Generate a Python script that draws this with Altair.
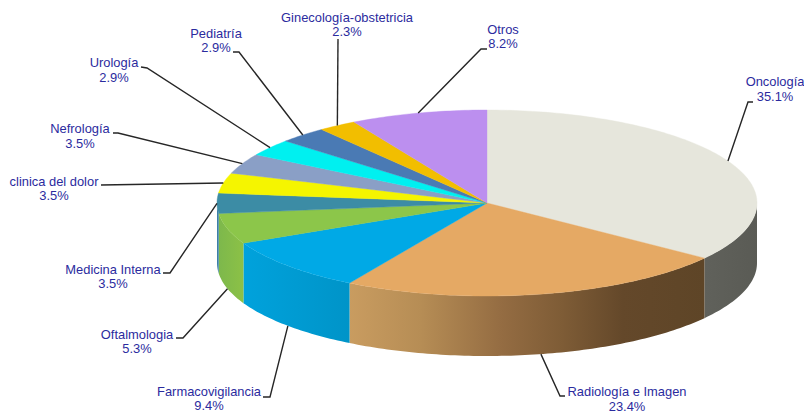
import math
import altair as alt

# Slices, clockwise from twelve o'clock
CATEGORIES = ["Oncología", "Radiología e Imagen", "Farmacovigilancia", "Oftalmologia",
              "Medicina Interna", "clinica del dolor", "Nefrología", "Urología",
              "Pediatría", "Ginecología-obstetricia", "Otros"]
SHARES = [35.1, 23.4, 9.4, 5.3, 3.5, 3.5, 3.5, 2.9, 2.9, 2.3, 8.2]

TOP_COLORS = ["#E6E6DC", "#E5A964", "#00A9E6", "#8CC64A", "#3C8CA5", "#F5F500",
              "#8A9FC6", "#00F0F0", "#4A7AB4", "#F2BE00", "#BC8FEF"]
WALL_STOPS = {
    0: [(0, "#60615B"), (1, "#5A5B55")],
    1: [(0, "#C99C60"), (0.2, "#B68D55"), (0.43, "#946C42"), (0.6, "#7E5C36"),
        (0.77, "#64482A"), (1, "#5E4527")],
    2: [(0, "#00A2DC"), (1, "#0094C8")],
    3: [(0, "#7DB84C"), (1, "#8CC146")],
    4: [(0, "#3C7FA8"), (1, "#3C7FA8")],
}

# Pie geometry, in view units
CX, CY, RX, RY, DEPTH = 487, 203, 270, 93, 60

# Label anchors: centre x, first line y, second line y
LABEL_X = [775, 627, 209, 137, 113, 54, 80, 114, 216, 347, 503]
LABEL_Y1 = [82, 392, 391.5, 335, 270, 182, 129, 63, 34, 18, 30]
LABEL_Y2 = [97, 407, 406, 349, 284, 196, 144, 78, 48, 32, 44]

# Leader elbows, running from the slice rim out towards the label
ELBOWS = [
    [(748, 102), (753, 102)],
    [(560, 396), (565, 396)],
    [(270, 397), (263, 397)],
    [(183, 338), (176, 338)],
    [(170, 273), (163, 273)],
    [(101, 185)],
    [(118, 133), (113, 133)],
    [(147, 68), (141, 67)],
    [(239, 52), (233, 52)],
    [(338, 39)],
    [(481, 49), (487, 49)],
]

TEXT_COLOR = "#2B2B9E"
LEADER_COLOR = "#262626"


def rim(angle, drop=0.0):
    rad = math.radians(angle)
    return [CX + RX * math.sin(rad), CY - RY * math.cos(rad) + drop]


def arc(a0, a1, drop=0.0):
    n = max(2, int(abs(a1 - a0)) + 2)
    return [rim(a0 + (a1 - a0) * i / (n - 1), drop) for i in range(n)]


def feature(ring, name):
    return {"type": "Feature", "properties": {"name": name},
            "geometry": {"type": "Polygon", "coordinates": [ring + [ring[0]]]}}


edges = [0.0]
for s in SHARES:
    edges.append(edges[-1] + s * 3.6)
edges[-1] = 360.0

FRAME = dict(type="identity", scale=1, translate=[0, 0])
layers = []

# Visible outer wall: only the part of each slice in the front half
for i, stops in WALL_STOPS.items():
    a0, a1 = max(edges[i], 90.0), min(edges[i + 1], 270.0)
    ring = arc(a0, a1) + arc(a1, a0, DEPTH)
    fill = {"gradient": "linear", "x1": 0, "y1": 0, "x2": 1, "y2": 0,
            "stops": [{"offset": o, "color": c} for o, c in stops]}
    layers.append(
        alt.Chart(alt.Data(values=[feature(ring, CATEGORIES[i])]))
        .mark_geoshape(fill=fill, strokeWidth=0)
        .project(**FRAME)
    )

# Top face
for i, color in enumerate(TOP_COLORS):
    ring = [[CX, CY]] + arc(edges[i], edges[i + 1])
    layers.append(
        alt.Chart(alt.Data(values=[feature(ring, CATEGORIES[i])]))
        .mark_geoshape(fill=color, stroke=color, strokeWidth=0.4)
        .project(**FRAME)
    )

# Leader lines start at the middle of each slice's rim
leader_rows = []
for i, name in enumerate(CATEGORIES):
    mid = (edges[i] + edges[i + 1]) / 2
    drop = DEPTH if 90 < mid < 265 else 0
    start = rim(mid, drop)
    for k, (x, y) in enumerate([start] + ELBOWS[i]):
        leader_rows.append({"name": name, "k": k, "x": x, "y": y})

layers.append(
    alt.Chart(alt.Data(values=leader_rows))
    .mark_line(color=LEADER_COLOR, strokeWidth=1.4)
    .encode(longitude="x:Q", latitude="y:Q", detail="name:N", order="k:Q")
    .project(**FRAME)
)

# Two-line labels: name above, share below
label_rows = []
for i, name in enumerate(CATEGORIES):
    label_rows.append({"t": name, "x": LABEL_X[i], "y": LABEL_Y1[i]})
    label_rows.append({"t": f"{SHARES[i]}%", "x": LABEL_X[i], "y": LABEL_Y2[i]})

layers.append(
    alt.Chart(alt.Data(values=label_rows))
    .mark_text(font="Liberation Sans", fontSize=12.9, color=TEXT_COLOR,
               align="center", baseline="middle")
    .encode(longitude="x:Q", latitude="y:Q", text="t:N")
    .project(**FRAME)
)

chart = (
    alt.layer(*layers)
    .properties(width=804, height=413, padding=0, background="white",
                autosize=alt.AutoSizeParams(type="none"))
    .configure_view(stroke=None)
)

chart.save("out.html", embed_options={"renderer": "svg", "actions": False})
